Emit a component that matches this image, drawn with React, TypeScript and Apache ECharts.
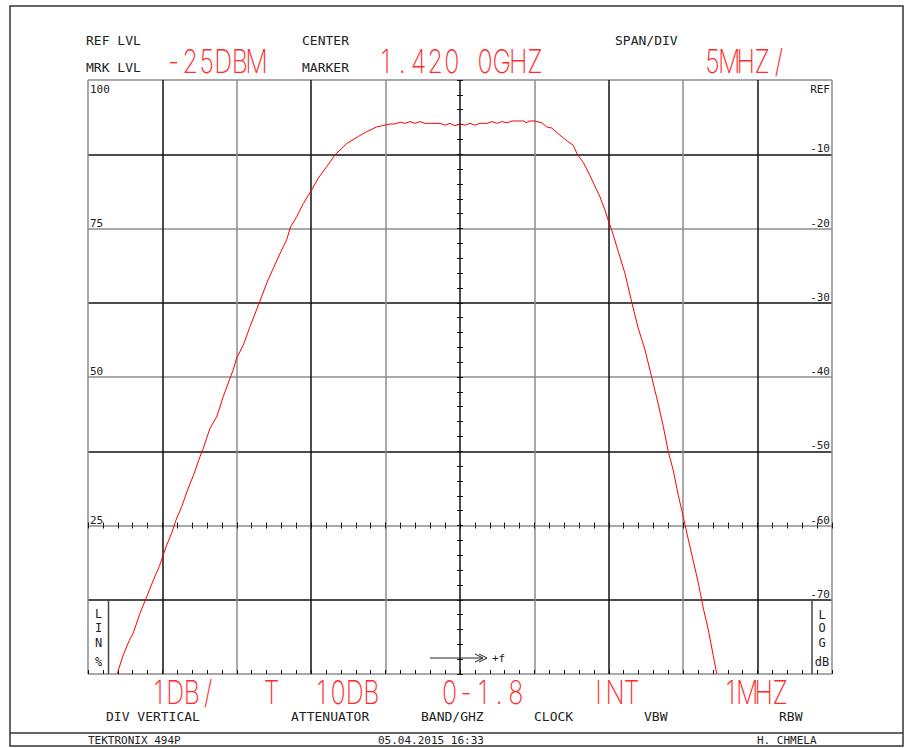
import React, { useEffect, useRef } from 'react';
import * as echarts from 'echarts';

// Trace (frequency in MHz, linear level in % of ref)
const traceFreqMHz = [
  1396.97, 1397.37, 1397.78, 1398.04, 1398.49, 1398.88, 1399.39, 1399.79, 1400.02, 1400.29,
  1400.62, 1400.91, 1401.30, 1401.74, 1402.14, 1402.53, 1402.75, 1403.20, 1403.65, 1404.09,
  1404.50, 1404.76, 1404.99, 1405.44, 1405.89, 1406.51, 1407.01, 1407.45, 1408.02, 1408.35,
  1408.62, 1409.03, 1409.47, 1410.03, 1410.48, 1411.04, 1411.60, 1412.39, 1413.17, 1413.73,
  1414.40, 1415.30,
  1415.63, 1415.97, 1416.30, 1416.64, 1416.98, 1417.31, 1417.65, 1417.98, 1418.66, 1418.99,
  1419.33, 1419.66, 1420.00, 1420.34, 1420.67, 1421.01, 1421.34, 1421.81, 1422.15, 1422.49,
  1422.82, 1423.16, 1423.49, 1423.90, 1424.30, 1424.43, 1424.70, 1425.04,
  1425.17, 1425.50, 1425.83, 1426.18, 1426.72, 1427.17, 1427.61, 1427.88, 1428.29, 1428.74,
  1429.07, 1429.41, 1429.74, 1429.97, 1430.19, 1430.64, 1431.09, 1431.54, 1431.98, 1432.43,
  1432.88, 1433.33, 1433.66, 1434.00, 1434.33, 1434.67, 1435.01, 1435.23, 1435.68, 1436.01,
  1436.35, 1436.69, 1437.02, 1437.25,
];
const traceLevelPct = [
  0.1, 3.2, 5.7, 6.9, 10.2, 12.6, 15.8, 18.1, 19.8, 21.7,
  23.7, 25.9, 28.2, 31.3, 33.8, 36.6, 38.0, 41.4, 43.3, 46.7,
  49.5, 51.2, 53.2, 55.4, 58.5, 62.5, 65.8, 68.3, 71.4, 73.1,
  75.3, 77.0, 79.2, 81.5, 83.5, 85.4, 87.4, 89.3, 90.5, 91.3,
  92.1, 92.6,
  92.6, 92.9, 92.7, 93.0, 92.7, 93.0, 92.7, 92.7, 92.7, 92.4,
  92.7, 92.3, 92.6, 92.4, 92.7, 92.4, 92.7, 92.7, 93.0, 92.7,
  93.0, 92.8, 93.1, 93.1, 93.1, 92.8, 93.1, 93.1,
  93.0, 92.8, 92.1, 91.9, 90.7, 89.8, 89.0, 87.5, 86.1, 83.9,
  82.1, 80.3, 78.1, 76.3, 74.8, 71.1, 67.4, 62.6, 58.2, 54.6,
  50.0, 45.4, 41.7, 37.4, 34.3, 30.1, 26.4, 23.9, 19.0, 15.4,
  11.1, 7.4, 3.1, 0.1,
];

// Tick labels, one per vertical division (0 .. 100 in steps of 12.5)
const linTickLabels = ['', '', '25', '', '50', '', '75', '', '100'];
const dbTickLabels = ['', '-70', '-60', '-50', '-40', '-30', '-20', '-10', 'REF'];

// Readout texts
const headerLabels = ['REF LVL', 'MRK LVL', 'CENTER', 'MARKER', 'SPAN/DIV'];
const headerValues = ['-25DBM', '1.420 0GHZ', '5MHZ/'];
const bottomValues = ['1DB/', 'T', '10DB', '0-1.8', 'INT', '1MHZ'];
const bottomLabels = ['DIV VERTICAL', 'ATTENUATOR', 'BAND/GHZ', 'CLOCK', 'VBW', 'RBW'];
const footerTexts = ['TEKTRONIX 494P', '05.04.2015 16:33', 'H. CHMELA'];
const linBoxLetters = ['L', 'I', 'N', '%'];
const logBoxLetters = ['L', 'O', 'G', 'dB'];

const MONO = "'DejaVu Sans Mono', monospace";
const BLACK = '#111111';
const GRAY = '#8c8c8c';
const RED = '#ff2a2a';
const TXT = '#222222';

const smallText = (x: number, y: number, text: string, size = 13, align = 'left') => ({
  type: 'text',
  x,
  y,
  z: 20,
  style: { text, font: `${size}px ${MONO}`, fill: TXT, align, verticalAlign: 'middle' },
});

// Red CRT readout: fixed-pitch characters, like the instrument's vector font
const PITCH = 16.6;
const redText = (x: number, y: number, text: string) => ({
  type: 'group',
  x,
  y,
  children: text.split('').map((ch, i) => ({
    type: 'text',
    x: 6.5 + i * PITCH,
    y: 0,
    scaleY: 1.3,
    z: 20,
    style: { text: ch, font: `200 25px Inter, 'DejaVu Sans', sans-serif`, fill: RED, align: 'center', verticalAlign: 'middle' },
  })),
});

export default function App() {
  const ref = useRef<HTMLDivElement>(null);

  useEffect(() => {
    if (!ref.current) return;
    const chart = echarts.init(ref.current, undefined, { renderer: 'svg' });

    const xBase: any = {
      type: 'value',
      min: 1395,
      max: 1445,
      interval: 5,
      axisLabel: { show: false },
      splitLine: { show: false },
      axisLine: { show: false },
    };
    const yBase: any = {
      type: 'value',
      min: 0,
      max: 100,
      interval: 12.5,
      axisLabel: { show: false },
      splitLine: { show: false },
      axisLine: { show: false },
      axisTick: { show: false },
    };
    const tickStyle = { color: BLACK, width: 1 };

    const graphic: any[] = [
      // outer frame and footer separator
      { type: 'rect', z: 1, shape: { x: 10, y: 6, width: 893, height: 740 }, style: { fill: 'none', stroke: '#333', lineWidth: 1.5 } },
      { type: 'line', z: 1, shape: { x1: 10, y1: 733, x2: 903, y2: 733 }, style: { stroke: '#333', lineWidth: 1.5 } },
      // header
      smallText(86, 40, headerLabels[0]),
      smallText(86, 67, headerLabels[1]),
      smallText(302, 40, headerLabels[2]),
      smallText(302, 67, headerLabels[3]),
      smallText(615, 40, headerLabels[4]),
      redText(167, 61, headerValues[0]),
      redText(379, 61, headerValues[1]),
      redText(706, 61, headerValues[2]),
      // top labels inside graticule
      smallText(90, 89, linTickLabels[8], 11),
      smallText(830, 89, dbTickLabels[8], 11, 'right'),
      // LIN / LOG boxes
      { type: 'line', z: 10, shape: { x1: 108.5, y1: 600, x2: 108.5, y2: 674 }, style: { stroke: '#444', lineWidth: 1.5 } },
      { type: 'line', z: 10, shape: { x1: 812, y1: 600, x2: 812, y2: 674 }, style: { stroke: '#444', lineWidth: 1.5 } },
      ...linBoxLetters.map((t, i) => smallText(98.5, [614, 628, 643, 662][i], t, 12, 'center')),
      ...logBoxLetters.map((t, i) => smallText(822, [615, 628, 643, 662][i], t, 12, 'center')),
      // +f arrow
      { type: 'line', z: 10, shape: { x1: 430, y1: 658, x2: 482, y2: 658 }, style: { stroke: '#222', lineWidth: 1 } },
      { type: 'polyline', z: 10, shape: { points: [[475, 654], [483, 658], [475, 662]] }, style: { stroke: '#222', lineWidth: 1, fill: 'none' } },
      { type: 'polyline', z: 10, shape: { points: [[479, 654], [487, 658], [479, 662]] }, style: { stroke: '#222', lineWidth: 1, fill: 'none' } },
      smallText(492, 658, '+f', 11),
      // bottom readouts
      redText(152, 692, bottomValues[0]),
      redText(265, 692, bottomValues[1]),
      redText(315, 692, bottomValues[2]),
      redText(443, 692, bottomValues[3]),
      redText(592, 692, bottomValues[4]),
      redText(724, 692, bottomValues[5]),
      smallText(106, 716, bottomLabels[0]),
      smallText(291, 716, bottomLabels[1]),
      smallText(421, 716, bottomLabels[2]),
      smallText(534, 716, bottomLabels[3]),
      smallText(644, 716, bottomLabels[4]),
      smallText(779, 716, bottomLabels[5]),
      // footer
      smallText(88, 740, footerTexts[0], 11),
      smallText(378, 740, footerTexts[1], 11),
      smallText(757, 740, footerTexts[2], 11),
    ];

    chart.setOption({
      animation: false,
      backgroundColor: '#ffffff',
      grid: { left: 88, top: 80, width: 744, height: 594, containLabel: false },
      xAxis: [
        {
          ...xBase,
          position: 'bottom',
          splitLine: { show: true, lineStyle: { color: [GRAY, BLACK], width: 1.5 } },
          axisTick: { show: true, inside: true, length: 4, lineStyle: tickStyle },
          minorTick: { show: true, splitNumber: 5, length: 4, lineStyle: tickStyle },
        },
        {
          ...xBase,
          position: 'bottom',
          offset: -148.5,
          axisTick: { show: true, inside: true, length: 3, lineStyle: tickStyle },
          minorTick: { show: true, splitNumber: 5, length: 3, lineStyle: tickStyle },
        },
        {
          ...xBase,
          position: 'bottom',
          offset: -148.5,
          axisTick: { show: true, inside: false, length: 3, lineStyle: tickStyle },
          minorTick: { show: true, splitNumber: 5, length: 3, lineStyle: tickStyle },
        },
      ],
      yAxis: [
        {
          ...yBase,
          position: 'left',
          splitLine: { show: true, lineStyle: { color: [GRAY, BLACK], width: 1.5 } },
          axisLabel: {
            show: true,
            inside: true,
            margin: 2,
            align: 'left',
            verticalAlign: 'bottom',
            color: TXT,
            fontFamily: MONO,
            fontSize: 11,
            formatter: (v: number) => (v >= 100 ? '' : linTickLabels[Math.round(v / 12.5)]),
          },
        },
        {
          ...yBase,
          position: 'right',
          axisLabel: {
            show: true,
            inside: true,
            margin: 2,
            align: 'right',
            verticalAlign: 'bottom',
            color: TXT,
            fontFamily: MONO,
            fontSize: 11,
            formatter: (v: number) => (v >= 100 ? '' : dbTickLabels[Math.round(v / 12.5)]),
          },
        },
        {
          ...yBase,
          position: 'left',
          offset: -372,
          axisTick: { show: true, inside: true, length: 3, lineStyle: tickStyle },
          minorTick: { show: true, splitNumber: 5, length: 3, lineStyle: tickStyle },
        },
        {
          ...yBase,
          position: 'left',
          offset: -372,
          axisTick: { show: true, inside: false, length: 3, lineStyle: tickStyle },
          minorTick: { show: true, splitNumber: 5, length: 3, lineStyle: tickStyle },
        },
      ],
      series: [
        {
          type: 'line',
          xAxisIndex: 0,
          yAxisIndex: 0,
          data: traceFreqMHz.map((f, i) => [f, traceLevelPct[i]]),
          showSymbol: false,
          symbol: 'none',
          silent: true,
          z: 5,
          lineStyle: { color: '#ff0000', width: 1 },
        },
      ],
      graphic,
    });

    return () => chart.dispose();
  }, []);

  return (
    <div
      ref={ref}
      style={{ position: 'fixed', left: 0, top: 0, width: 906, height: 748, background: '#ffffff' }}
    />
  );
}
